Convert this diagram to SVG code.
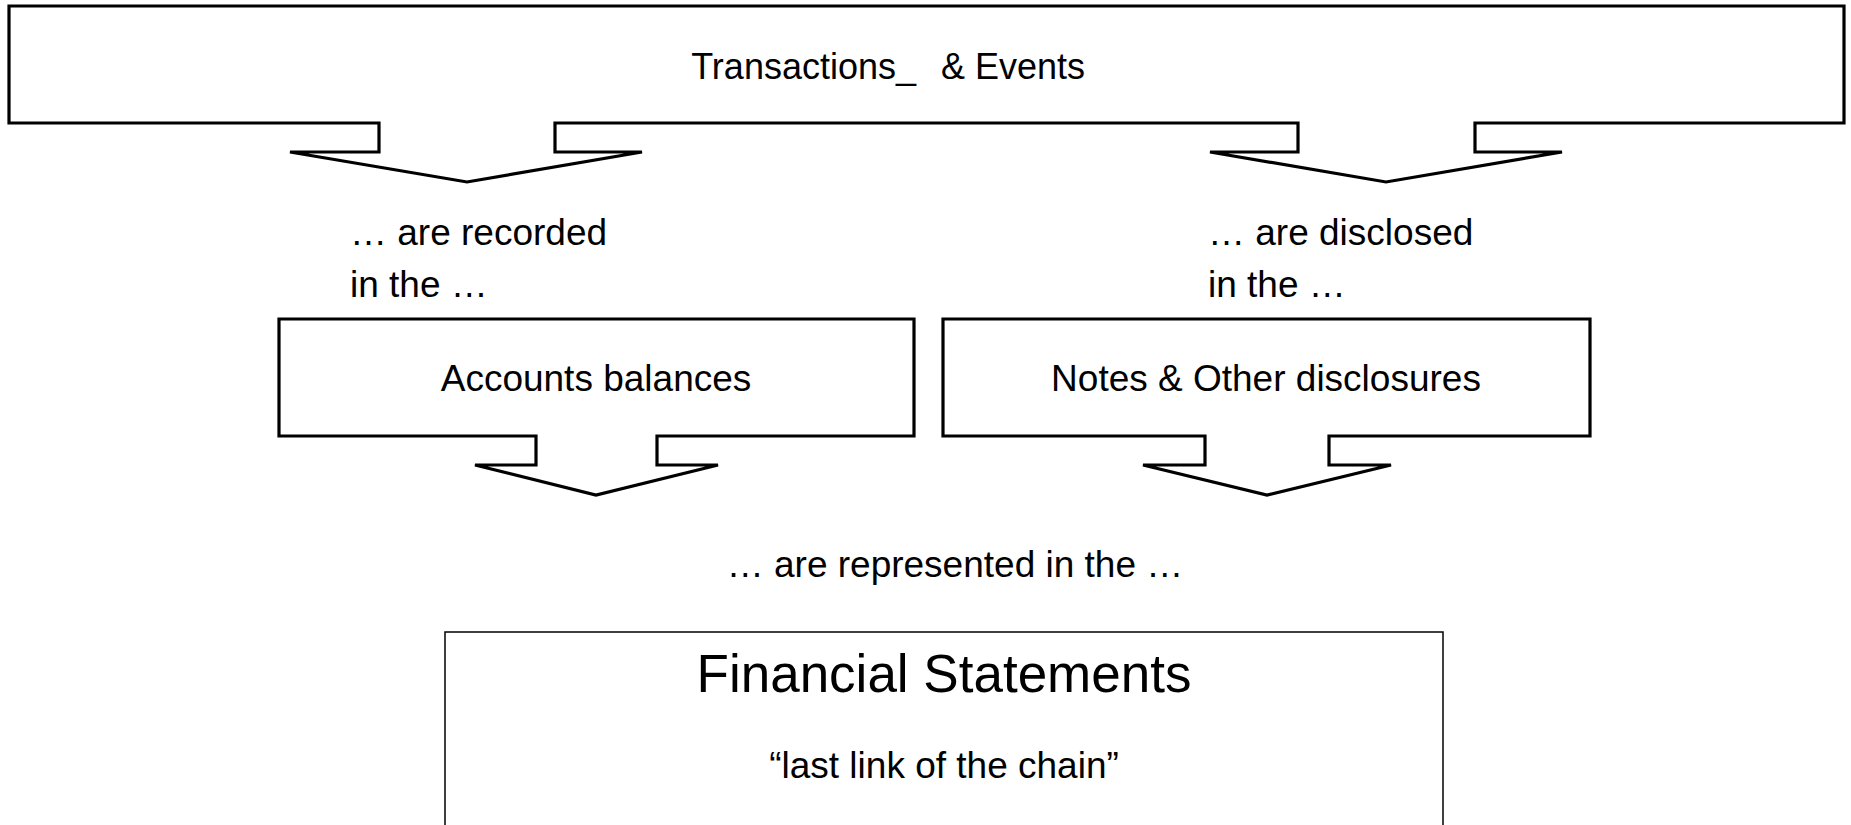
<svg xmlns="http://www.w3.org/2000/svg" width="1851" height="825" viewBox="0 0 1851 825">
<style>
.shape{fill:#fff;stroke:#000;stroke-width:3.2;stroke-linejoin:miter}
.thin{fill:#fff;stroke:#000;stroke-width:1.5}
text{font-family:"Liberation Sans",Arial,sans-serif;fill:#000;font-size:37px}
.mid{text-anchor:middle}
.top{font-size:36px}
.big{font-size:53px}
</style>
<rect width="1851" height="825" fill="#fff"/>
<g id="node-transactions">
<path class="shape" d="M9,6 H1844 V123 H1475 V152 H1562 L1386,182 L1210,152 H1298 V123 H555 V152 H642 L467,182 L290,152 H379 V123 H9 Z"/>
<text class="top" x="916" y="79" text-anchor="end">Transactions_</text>
<text class="top" x="941" y="79">&amp; Events</text>
</g>
<g id="connectors">
<text x="350" y="245">… are recorded</text>
<text x="350" y="297">in the …</text>
<text x="1208" y="245">… are disclosed</text>
<text x="1208" y="297">in the …</text>
<text class="mid" x="955" y="577">… are represented in the …</text>
</g>
<g id="node-accounts">
<path class="shape" d="M279,319 H914 V436 H657 V465 H718 L596,495 L475,465 H536 V436 H279 Z"/>
<text class="mid" x="596" y="391">Accounts balances</text>
</g>
<g id="node-notes">
<path class="shape" d="M943,319 H1590 V436 H1329 V465 H1391 L1267,495 L1143,465 H1205 V436 H943 Z"/>
<text class="mid" x="1266" y="391">Notes &amp; Other disclosures</text>
</g>
<g id="node-financial">
<rect class="thin" x="445" y="632" width="998" height="200"/>
<text class="mid big" x="944" y="692">Financial Statements</text>
<text class="mid" x="944" y="778">“last link of the chain”</text>
</g>
</svg>
